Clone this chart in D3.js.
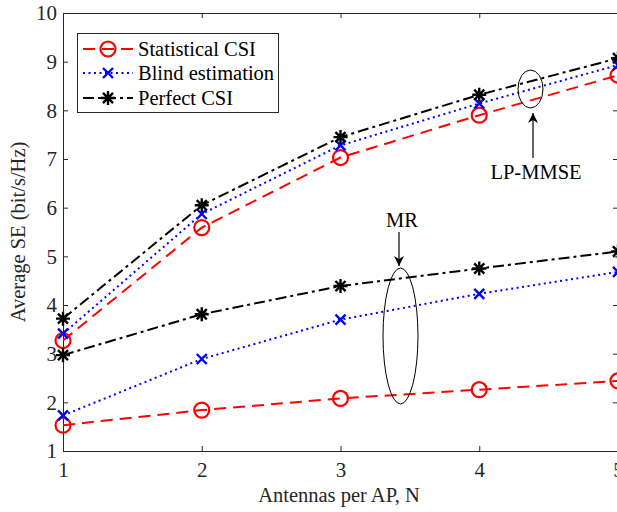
<!DOCTYPE html>
<html><head><meta charset="utf-8">
<script src="https://cdn.jsdelivr.net/npm/d3@7"></script>
<style>body{margin:0;background:#fff;} svg{display:block;}</style>
</head><body>
<svg id="c" width="617" height="512"></svg>
<script>
const antennas = [1, 2, 3, 4, 5];
const lpStatistical = [3.27, 5.59, 7.03, 7.9, 8.72];
const lpBlind = [3.41, 5.87, 7.28, 8.14, 8.93];
const lpPerfect = [3.72, 6.05, 7.45, 8.32, 9.07];
const mrStatistical = [1.53, 1.84, 2.08, 2.26, 2.44];
const mrBlind = [1.73, 2.89, 3.70, 4.23, 4.68];
const mrPerfect = [2.97, 3.81, 4.39, 4.75, 5.10];
const yTicks = [1, 2, 3, 4, 5, 6, 7, 8, 9, 10];
const xTicks = [1, 2, 3, 4, 5];
const legendLabels = ["Statistical CSI", "Blind estimation", "Perfect CSI"];

const svg = d3.select("#c");
const font = "'Liberation Serif','Times New Roman',serif";
const L = 63, R = 618, T = 13, B = 451;
const x = d3.scaleLinear().domain([1, 5]).range([L, R]);
const y = d3.scaleLinear().domain([1, 10]).range([B, T]);
const axisColor = "#262626";

const styles = {
  stat: {color: "#ff0000", dash: "12,7", marker: "circle"},
  blind: {color: "#0000ff", dash: "2,3.5", marker: "x"},
  perf: {color: "#000000", dash: "11,4,3,4", marker: "star"}
};

function drawMarker(g, type, color, cx, cy) {
  if (type === "circle") {
    g.append("circle").attr("cx", cx).attr("cy", cy).attr("r", 7.5)
      .attr("fill", "none").attr("stroke", color).attr("stroke-width", 2.2);
  } else if (type === "x") {
    const s = 5;
    g.append("path").attr("d", `M${cx-s},${cy-s}L${cx+s},${cy+s}M${cx-s},${cy+s}L${cx+s},${cy-s}`)
      .attr("stroke", color).attr("stroke-width", 2.4).attr("fill", "none");
  } else {
    const s = 7, d = s * 0.72;
    g.append("path").attr("d", `M${cx-s},${cy}L${cx+s},${cy}M${cx},${cy-s}L${cx},${cy+s}M${cx-d},${cy-d}L${cx+d},${cy+d}M${cx-d},${cy+d}L${cx+d},${cy-d}`)
      .attr("stroke", color).attr("stroke-width", 2.4).attr("fill", "none");
  }
}

// axes
const gx = svg.append("g").attr("transform", `translate(0,${B})`)
  .call(d3.axisBottom(x).tickValues(xTicks).tickSizeInner(-5).tickSizeOuter(0).tickPadding(11).tickFormat(d3.format("d")));
const gy = svg.append("g").attr("transform", `translate(${L},0)`)
  .call(d3.axisLeft(y).tickValues(yTicks).tickSizeInner(-5).tickSizeOuter(0).tickPadding(6).tickFormat(d3.format("d")));
const gxt = svg.append("g").attr("transform", `translate(0,${T})`)
  .call(d3.axisTop(x).tickValues(xTicks).tickSizeInner(-5).tickSizeOuter(0).tickFormat(""));
const gyr = svg.append("g").attr("transform", `translate(${R},0)`)
  .call(d3.axisRight(y).tickValues(yTicks).tickSizeInner(-5).tickSizeOuter(0).tickFormat(""));
[gx, gy, gxt, gyr].forEach(g => {
  g.selectAll("path, line").attr("stroke", axisColor).attr("stroke-width", 1);
  g.selectAll("text").attr("font-family", font).attr("font-size", 21).attr("fill", axisColor);
});

// series
const series = [
  {vals: lpStatistical, st: styles.stat},
  {vals: lpBlind, st: styles.blind},
  {vals: lpPerfect, st: styles.perf},
  {vals: mrStatistical, st: styles.stat},
  {vals: mrBlind, st: styles.blind},
  {vals: mrPerfect, st: styles.perf}
];
const line = d3.line().x((d, i) => x(antennas[i])).y(d => y(d));
const plot = svg.append("g");
series.forEach(s => {
  plot.append("path").datum(s.vals).attr("d", line).attr("fill", "none")
    .attr("stroke", s.st.color).attr("stroke-width", 2).attr("stroke-dasharray", s.st.dash);
});
series.forEach(s => {
  s.vals.forEach((v, i) => drawMarker(plot, s.st.marker, s.st.color, x(antennas[i]), y(v)));
});

// annotations
svg.append("defs").append("marker").attr("id", "ah").attr("viewBox", "0 0 10 10")
  .attr("refX", 10).attr("refY", 5).attr("markerWidth", 10).attr("markerHeight", 12)
  .attr("markerUnits", "userSpaceOnUse").attr("orient", "auto")
  .append("path").attr("d", "M0,0L10,5L0,10L3,5Z").attr("fill", "#000");
const ann = svg.append("g");
ann.append("ellipse").attr("cx", 530.5).attr("cy", 89).attr("rx", 12.5).attr("ry", 19)
  .attr("fill", "none").attr("stroke", "#000").attr("stroke-width", 1);
ann.append("line").attr("x1", 533).attr("y1", 158).attr("x2", 533).attr("y2", 113)
  .attr("stroke", "#000").attr("stroke-width", 1.2).attr("marker-end", "url(#ah)");
ann.append("text").attr("x", 536).attr("y", 179).attr("text-anchor", "middle")
  .attr("font-family", font).attr("font-size", 20.5).text("LP-MMSE");
ann.append("ellipse").attr("cx", 400.5).attr("cy", 336).attr("rx", 17.5).attr("ry", 68)
  .attr("fill", "none").attr("stroke", "#000").attr("stroke-width", 1);
ann.append("line").attr("x1", 399).attr("y1", 232).attr("x2", 399).attr("y2", 266)
  .attr("stroke", "#000").attr("stroke-width", 1.2).attr("marker-end", "url(#ah)");
ann.append("text").attr("x", 402).attr("y", 227).attr("text-anchor", "middle")
  .attr("font-family", font).attr("font-size", 20.5).text("MR");

// legend
const lg = svg.append("g");
lg.append("rect").attr("x", 77.5).attr("y", 33.5).attr("width", 201).attr("height", 79)
  .attr("fill", "#fff").attr("stroke", axisColor).attr("stroke-width", 1);
const lst = [styles.stat, styles.blind, styles.perf];
const ly = [49, 73, 98];
legendLabels.forEach((lab, i) => {
  lg.append("line").attr("x1", 83).attr("x2", 133).attr("y1", ly[i]).attr("y2", ly[i])
    .attr("stroke", lst[i].color).attr("stroke-width", 2).attr("stroke-dasharray", lst[i].dash);
  drawMarker(lg, lst[i].marker, lst[i].color, 108, ly[i]);
  lg.append("text").attr("x", 138).attr("y", ly[i] + 7).attr("font-family", font)
    .attr("font-size", 20.5).attr("fill", "#000").text(lab);
});

// axis labels
svg.append("text").attr("x", 339).attr("y", 502).attr("text-anchor", "middle")
  .attr("font-family", font).attr("font-size", 20.5).attr("fill", axisColor).text("Antennas per AP, N");
svg.append("text").attr("transform", "translate(25,232) rotate(-90)").attr("text-anchor", "middle")
  .attr("font-family", font).attr("font-size", 20.5).attr("fill", axisColor).text("Average SE (bit/s/Hz)");
</script>
</body></html>
